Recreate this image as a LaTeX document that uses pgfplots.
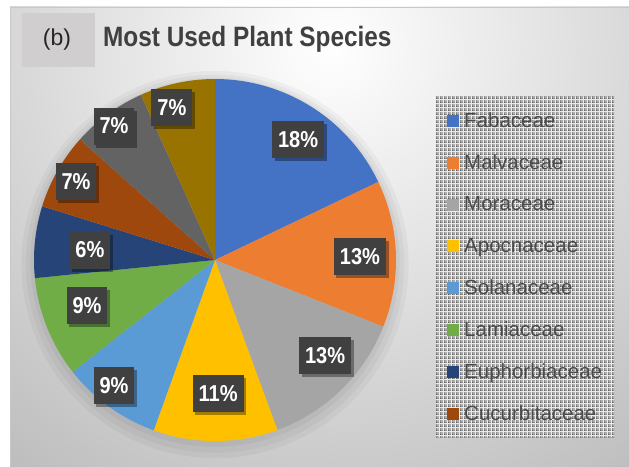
\documentclass[border=0pt]{standalone}
\usepackage{fontspec}
\setmainfont{Liberation Sans}
\newfontfamily\narrowfont[FakeStretch=0.87]{Liberation Sans}
\usepackage{pgfplots}
\pgfplotsset{compat=1.18}
\usepackage{pgfplotstable}
\usetikzlibrary{patterns,shadows}

\definecolor{pie0}{HTML}{4472C4}
\definecolor{pie1}{HTML}{ED7D31}
\definecolor{pie2}{HTML}{A5A5A5}
\definecolor{pie3}{HTML}{FFC000}
\definecolor{pie4}{HTML}{5B9BD5}
\definecolor{pie5}{HTML}{70AD47}
\definecolor{pie6}{HTML}{264478}
\definecolor{pie7}{HTML}{9E480E}
\definecolor{pie8}{HTML}{636363}
\definecolor{pie9}{HTML}{997300}
\definecolor{labelbg}{HTML}{404040}
\definecolor{titlegray}{HTML}{404040}
\definecolor{legendgray}{HTML}{4A4A4A}
\definecolor{bboxgray}{HTML}{D0CECE}
\definecolor{bgouter}{HTML}{B9B9B9}
\definecolor{framegray}{HTML}{C8C8C8}
\definecolor{checkdark}{HTML}{5E5E5E}

\pgfdeclarepatternformonly{finecheck}{\pgfpointorigin}{\pgfqpoint{4pt}{4pt}}{\pgfqpoint{4pt}{4pt}}{%
  \pgfpathrectangle{\pgfqpoint{0pt}{0pt}}{\pgfqpoint{1.4pt}{1.4pt}}%
  \pgfpathrectangle{\pgfqpoint{2pt}{2pt}}{\pgfqpoint{1.4pt}{1.4pt}}%
  \pgfpathrectangle{\pgfqpoint{2pt}{0pt}}{\pgfqpoint{1.4pt}{1.4pt}}%
  \pgfpathrectangle{\pgfqpoint{0pt}{2pt}}{\pgfqpoint{1.4pt}{1.4pt}}%
  \pgfusepath{fill}}

% value (percent of slice), printed label, label position (axis units)
\pgfplotstableread{
val  pct lx     ly
17.9 18  0.459  0.663
13.1 13  0.801  0.017
13.4 13  0.608 -0.530
11.1 11  0.017 -0.740
8.9  9  -0.558 -0.696
9.0  9  -0.707 -0.254
6.4  6  -0.691  0.055
6.8  7  -0.768  0.431
6.7  7  -0.558  0.740
6.7  7  -0.238  0.840
}\piedata

\def\piecum{0}
\newcommand\pieslice[2]{%
  \pgfplotstablegetelem{#1}{val}\of\piedata
  \pgfmathsetmacro\pieV{\pgfplotsretval}%
  \pgfmathsetmacro\pieA{90-3.6*\piecum}%
  \pgfmathsetmacro\pieB{90-3.6*(\piecum+\pieV)}%
  \pgfmathsetmacro\pieC{\piecum+\pieV}%
  \xdef\piecum{\pieC}%
  \edef\pietmp{\noexpand\addplot[fill=pie#1, draw=none, domain=\pieB:\pieA, samples=60, #2] ({cos(x)},{sin(x)}) -- (0,0) -- cycle;}%
  \pietmp
}

\begin{document}
\begin{tikzpicture}[x=1pt,y=1pt]
\useasboundingbox (0,0) rectangle (629,466);
\fill[white] (0,0) rectangle (629,466);
% chart background
\begin{scope}
  \clip (10,0) rectangle (629,459);
  \shade[inner color=white, outer color=bgouter] (330,420) circle (560pt);
\end{scope}
\draw[framegray, line width=1.2pt] (10.6,0) -- (10.6,458.4) -- (629,458.4);
% (b) box
\fill[bboxgray] (22,399) rectangle (95,453);
\node[font=\fontsize{23}{26}\selectfont, text=black!85] at (57,426) {(b)};
% title
\node[anchor=base west, inner sep=0pt, font=\narrowfont\bfseries\fontsize{28}{32}\selectfont, text=titlegray] at (103,419) {Most Used Plant Species};
% legend background (patterned box)
\fill[white!92!black, postaction={pattern=finecheck, pattern color=checkdark}] (436,29) rectangle (614,369);

\begin{axis}[
  at={(34pt,25pt)}, anchor=south west,
  scale only axis, width=362pt, height=362pt,
  xmin=-1, xmax=1, ymin=-1, ymax=1,
  axis lines=none, clip=false,
  legend entries={Fabaceae,Malvaceae,Moraceae,Apocnaceae,Solanaceae,Lamiaceae,Euphorbiaceae,Cucurbitaceae},
  legend image code/.code={\fill[#1] (0pt,-6pt) rectangle (12pt,6pt);},
  legend cell align=left,
  legend style={
    at={(1.1105,0.9503)}, anchor=north west,
    draw=none, fill=none,
    inner xsep=11pt, inner ysep=3pt,
    /tikz/every odd column/.append style={column sep=5pt},
    nodes={inner sep=0pt, minimum height=41.8pt, text=legendgray,
           font=\fontsize{20.5}{23}\selectfont},
  },
]
% soft shadow around the pie
\addplot[forget plot, fill=black, fill opacity=0.035, draw=none, domain=0:360, samples=120] ({1.07*cos(x)},{1.07*sin(x)-0.025});
\addplot[forget plot, fill=black, fill opacity=0.035, draw=none, domain=0:360, samples=120] ({1.045*cos(x)},{1.045*sin(x)-0.02});
\addplot[forget plot, fill=black, fill opacity=0.04, draw=none, domain=0:360, samples=120] ({1.02*cos(x)},{1.02*sin(x)-0.012});
\pieslice{0}{}
\pieslice{1}{}
\pieslice{2}{}
\pieslice{3}{}
\pieslice{4}{}
\pieslice{5}{}
\pieslice{6}{}
\pieslice{7}{}
\pieslice{8}{forget plot}
\pieslice{9}{forget plot}
% data labels
\addplot[forget plot, draw=none, mark=none,
  point meta=explicit,
  nodes near coords={\pgfmathprintnumber[fixed,precision=0,assume math mode=true]{\pgfplotspointmeta}\%},
  nodes near coords align=center,
  every node near coord/.append style={anchor=center, fill=labelbg, text=white,
    font=\narrowfont\bfseries\fontsize{23}{26}\selectfont,
    minimum height=37pt, inner xsep=6pt, inner ysep=0pt,
    drop shadow={shadow xshift=2.5pt, shadow yshift=-3pt, opacity=0.35, fill=black}},
] table[x=lx, y=ly, meta=pct] {\piedata};
\end{axis}
\end{tikzpicture}
\end{document}
